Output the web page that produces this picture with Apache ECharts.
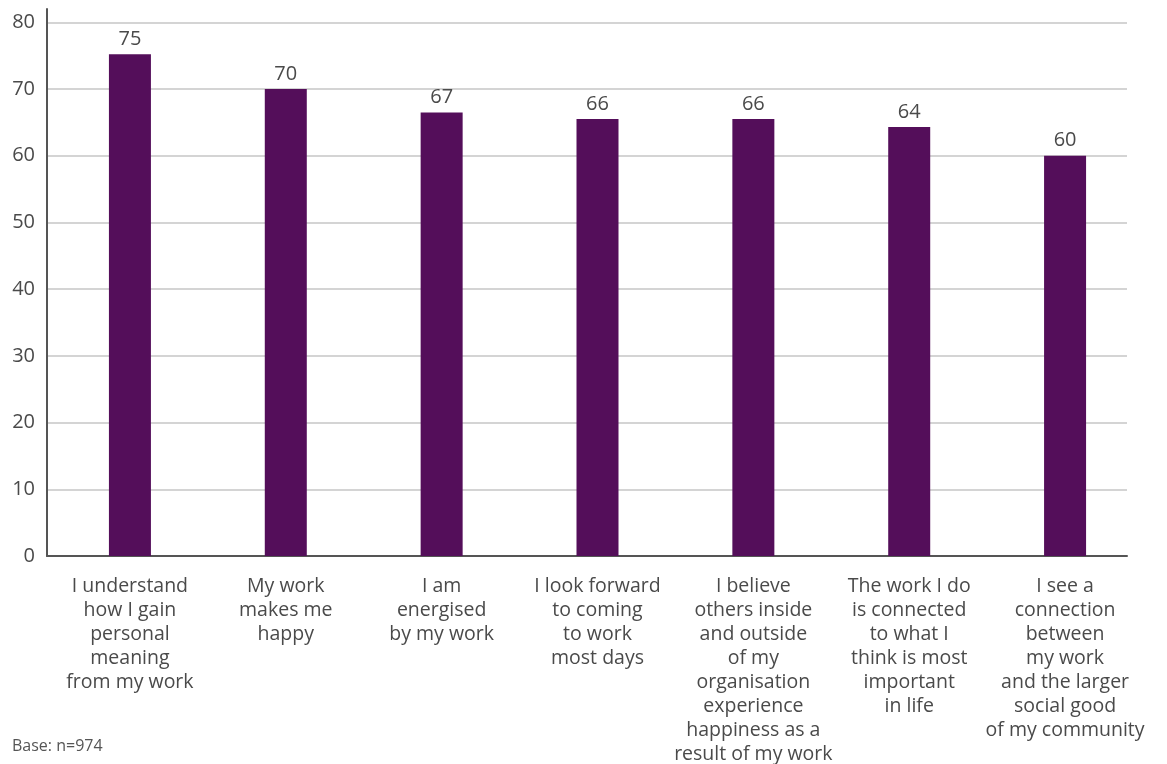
<!DOCTYPE html>
<html>
<head>
<meta charset="utf-8">
<script src="https://cdn.jsdelivr.net/npm/echarts@6/dist/echarts.min.js"></script>
<style>
  html, body { margin: 0; padding: 0; background: #fff; }
  #chart { width: 1167px; height: 764px; }
</style>
</head>
<body>
<div id="chart"></div>
<script>
// statements, as printed under the bars
var categories = [
  'I understand\nhow I gain\npersonal\nmeaning\nfrom my work',
  'My work\nmakes me\nhappy',
  'I am\nenergised\nby my work',
  'I look forward\nto coming\nto work\nmost days',
  'I believe\nothers inside\nand outside\nof my\norganisation\nexperience\nhappiness as a\nresult of my work',
  'The work I do\nis connected\nto what I\nthink is most\nimportant\nin life',
  'I see a\nconnection\nbetween\nmy work\nand the larger\nsocial good\nof my community'
];
// % agreeing (labels are shown rounded)
var values = [75.2, 70, 66.5, 65.5, 65.5, 64.3, 60];
var yTicks = [0, 10, 20, 30, 40, 50, 60, 70, 80];

var FONT = '"Open Sans", sans-serif';
var TEXT = '#4a4a4a';

var chart = echarts.init(document.getElementById('chart'));
chart.setOption({
  animation: false,
  textStyle: { fontFamily: FONT },
  grid: [
    { left: 47, right: 40, top: 9, bottom: 208, outerBoundsMode: 'none' },   // gridlines + axes
    { left: 52, right: 24, top: 9, bottom: 208, outerBoundsMode: 'none' }    // bars
  ],
  xAxis: [
    {
      gridIndex: 0, type: 'category', data: categories,
      axisLine: { show: true, lineStyle: { color: '#555', width: 2 } },
      axisTick: { show: false }, axisLabel: { show: false }
    },
    {
      gridIndex: 1, type: 'category', data: categories,
      axisLine: { show: false }, axisTick: { show: false },
      axisLabel: {
        interval: 0, margin: 18, color: TEXT, fontSize: 19.5,
        lineHeight: 24, align: 'center', fontFamily: FONT
      }
    }
  ],
  yAxis: [
    {
      gridIndex: 0, type: 'value', min: 0, max: 82, interval: 10,
      axisLine: { show: true, lineStyle: { color: '#555', width: 2 } },
      axisTick: { show: false },
      axisLabel: {
        margin: 12, color: TEXT, fontSize: 20, fontFamily: FONT,
        showMaxLabel: false,
        formatter: function (v) { return yTicks.indexOf(v) >= 0 ? v : ''; }
      },
      splitLine: { show: true, showMaxLine: false, lineStyle: { color: '#d4d4d4', width: 2 } }
    },
    {
      gridIndex: 1, type: 'value', min: 0, max: 82,
      show: false, splitLine: { show: false }
    }
  ],
  series: [{
    type: 'bar',
    xAxisIndex: 1, yAxisIndex: 1,
    data: values,
    barWidth: 42,
    itemStyle: { color: '#540e5a' },
    label: {
      show: true, position: 'top', distance: 5,
      color: TEXT, fontSize: 20, fontFamily: FONT,
      formatter: function (p) { return Math.round(p.value); }
    }
  }],
  graphic: [{
    type: 'text', left: 12, top: 738,
    style: { text: 'Base: n=974', fill: '#555', font: '16px ' + FONT }
  }]
});
</script>
</body>
</html>
